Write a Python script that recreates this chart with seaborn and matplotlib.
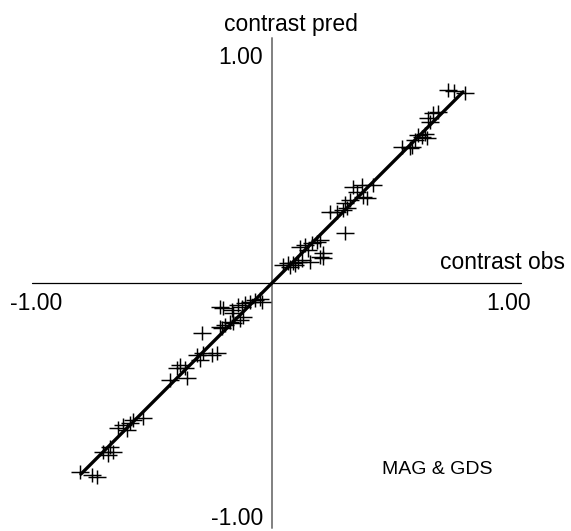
import numpy as np
import pandas as pd
import matplotlib
matplotlib.use("Agg")
import matplotlib.pyplot as plt
from matplotlib.path import Path
import seaborn as sns

# ---- data ----
obs = [0.788, 0.743, 0.718, 0.678, 0.657, 0.637, 0.645, 0.624, 0.596, 0.612,
       0.633, 0.584, 0.571, 0.563, 0.531, 0.412, 0.367, 0.347, 0.371, 0.388,
       0.331, 0.318, 0.298, 0.306, 0.290, 0.265, 0.237, 0.298, 0.196, 0.184,
       0.163, 0.135, 0.114, 0.147, 0.208, 0.196, 0.208, 0.155, 0.122, 0.106,
       0.086, 0.065, 0.045, 0.073, 0.094,
       -0.041, -0.049, -0.069, -0.090, -0.110, -0.139, -0.122, -0.159, -0.200, -0.212,
       -0.163, -0.118, -0.131, -0.159, -0.171, -0.192, -0.212, -0.204, -0.286, -0.224,
       -0.245, -0.282, -0.306, -0.294, -0.355, -0.376, -0.388, -0.347, -0.416, -0.527,
       -0.567, -0.580, -0.608, -0.629, -0.592, -0.661, -0.690, -0.649, -0.669, -0.784,
       -0.735, -0.714]
pred = [0.776, 0.784, 0.788, 0.698, 0.694, 0.673, 0.657, 0.608, 0.604, 0.596,
        0.592, 0.584, 0.555, 0.551, 0.555, 0.400, 0.400, 0.371, 0.351, 0.347,
        0.392, 0.339, 0.327, 0.306, 0.298, 0.290, 0.290, 0.204, 0.176, 0.167,
        0.163, 0.155, 0.147, 0.135, 0.122, 0.106, 0.102, 0.086, 0.094, 0.086,
        0.082, 0.082, 0.073, 0.065, 0.073,
        -0.078, -0.065, -0.069, -0.078, -0.082, -0.090, -0.098, -0.122, -0.102, -0.098,
        -0.110, -0.139, -0.151, -0.163, -0.159, -0.171, -0.180, -0.184, -0.204, -0.286,
        -0.294, -0.286, -0.294, -0.314, -0.347, -0.335, -0.347, -0.388, -0.396, -0.551,
        -0.559, -0.571, -0.580, -0.592, -0.600, -0.669, -0.690, -0.690, -0.702, -0.771,
        -0.784, -0.792]
fit_x = [-0.78, 0.78]
fit_y = [-0.78, 0.78]
tick_labels = ["-1.00", "1.00"]
x_label = "contrast obs"
y_label = "contrast pred"
note = "MAG & GDS"

df = pd.DataFrame({"obs": obs, "pred": pred})
fit = pd.DataFrame({"x": fit_x, "y": fit_y})

W, H = 571, 531
sns.set_style("white")
plt.rcParams["font.family"] = ["Liberation Sans", "DejaVu Sans"]

fig = plt.figure(figsize=(W / 100, H / 100), dpi=100)
ax = fig.add_axes([0, 0, 1, 1])

# pixel mapping: x0=272, y0=283, 245 px per unit
ax.set_xlim(-272 / 245, (W - 272) / 245)
ax.set_ylim((283 - H) / 245, 283 / 245)
ax.axis("off")

# axes lines
ax.plot([-0.98, 1.016], [0, 0], color="black", lw=0.9, zorder=1)
ax.plot([0, 0], [-1.0, 1.0], color="#808080", lw=1.4, zorder=1)

# wide plus marker
plus = Path([(-1, 0), (1, 0), (0, -0.72), (0, 0.72)],
            [Path.MOVETO, Path.LINETO, Path.MOVETO, Path.LINETO])

sns.scatterplot(data=df, x="obs", y="pred", marker=plus, s=185,
                color="black", edgecolor="black", linewidth=1.05,
                ax=ax, zorder=3, legend=False)
sns.lineplot(data=fit, x="x", y="y", color="black", lw=2.4, ax=ax,
             zorder=4, legend=False)

def ftxt(px, py, s, size, ha="center"):
    fig.text(px / W, 1 - py / H, s, ha=ha, va="baseline", fontsize=size,
             color="black")

FS = 16.5
ftxt(291, 31, y_label, FS)
ftxt(440, 269, x_label, FS, ha="left")
ftxt(263, 64, tick_labels[1], FS, ha="right")
ftxt(36, 310, tick_labels[0], FS)
ftxt(509, 310, tick_labels[1], FS)
ftxt(263, 525, tick_labels[0], FS, ha="right")
ftxt(437, 474, note, 14)

fig.savefig("out.png", dpi=100)
